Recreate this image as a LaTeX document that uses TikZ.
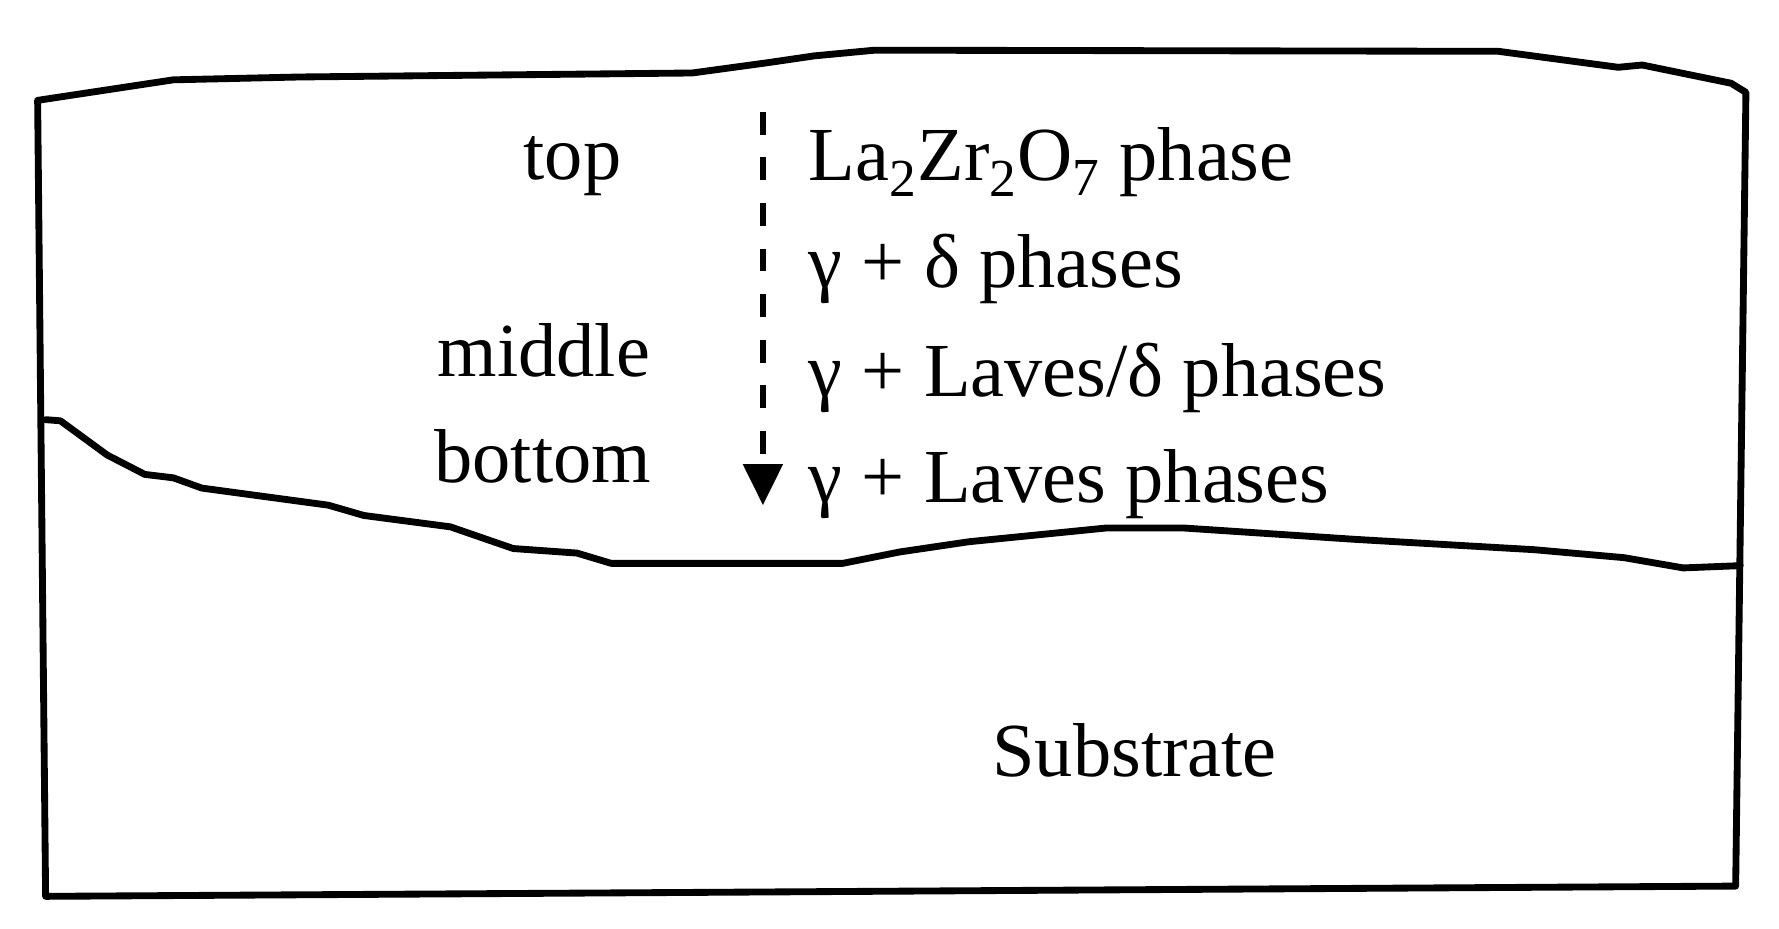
\documentclass[tikz,border=0pt]{standalone}
\usepackage{fontspec}
\setmainfont{Liberation Serif}
\usetikzlibrary{arrows.meta}

\tikzset{
    layer/.style={line width=3pt, line join=round, line cap=round},
    label/.style={inner sep=0pt, anchor=base, font=\fontsize{33.5}{40}\selectfont},
    phase/.style={label, anchor=base west}
}

\begin{document}
\begin{tikzpicture}[x=0.5pt, y=-0.5pt]
        \useasboundingbox (0,0) rectangle (1560,814);
        % Outline
        \draw[layer] (1531,81) -- (1518,73) -- (1440,57) -- (1419,59) -- (1314,45)
            -- (767,44) -- (714,49) -- (673,55) -- (607,64) -- (263,67.5)
            -- (152,70) -- (33,88) -- (40,786) -- (1522,777) -- cycle;
        % Interface
        \draw[layer] (40,368) -- (53,369) -- (94,399) -- (127,416) -- (152,419)
            -- (177,428) -- (288,443) -- (319,452) -- (395,462) -- (450,481)
            -- (506,485) -- (536,494) -- (739,494) -- (789,484) -- (850,475)
            -- (970,463) -- (1038,463) -- (1189,473) -- (1345,482) -- (1424,489)
            -- (1476,498) -- (1526,496);
        % Labels
        \node (top) at (502,157) [label] {top};
        \node (middle) at (477,330) [label] {middle};
        \node (bottom) at (476,423) [label] {bottom};
        \node (p1) at (709,158) [phase] {La\textsubscript{2}Zr\textsubscript{2}O\textsubscript{7} phase};
        \node (p2) at (709,252) [phase] {γ + δ phases};
        \node (p3) at (709,348) [phase] {γ + Laves/δ phases};
        \node (p4) at (709,441) [phase] {γ + Laves phases};
        \node (sub) at (995,681) [label] {Substrate};
        % Arrow
        \coordinate (a1) at (669,98);
        \coordinate (a2) at (669,443);
        \draw[line width=2.6pt, dash pattern=on 10pt off 10pt,
            -{Triangle[length=18pt, width=17pt, sep=0pt]}] (a1) -- (a2);
\end{tikzpicture}
\end{document}
